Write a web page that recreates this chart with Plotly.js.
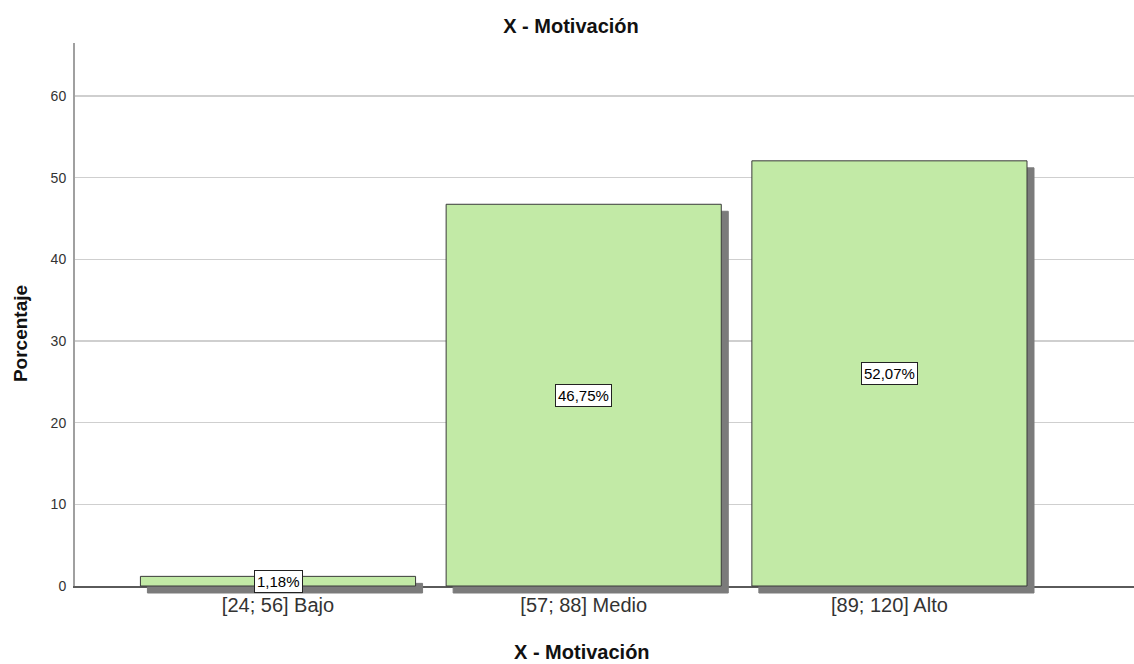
<!DOCTYPE html>
<html>
<head>
<meta charset="utf-8">
<script src="https://cdn.plot.ly/plotly-3.0.1.min.js"></script>
<style>
  html, body { margin: 0; padding: 0; background: #fff; }
  #chart { width: 1134px; height: 664px; }
</style>
</head>
<body>
<div id="chart"></div>
<script>
// Data
const categories = ['[24; 56] Bajo', '[57; 88] Medio', '[89; 120] Alto'];
const percentages = [1.18, 46.75, 52.07];
const yTickValues = [0, 10, 20, 30, 40, 50, 60];
const chartTitle = 'X - Motivación';
const xTitle = 'X - Motivación';
const yTitle = 'Porcentaje';

const FONT = '"Liberation Sans", Arial, sans-serif';

function fmtPct(v) {
  return v.toFixed(2).replace('.', ',') + '%';
}

const trace = {
  type: 'bar',
  x: categories,
  y: percentages,
  width: 0.9,
  marker: { color: '#c2eaa6', line: { color: '#3a3a3a', width: 1 } },
  hoverinfo: 'skip',
  cliponaxis: false
};

const valueLabels = categories.map((c, i) => ({
  x: c,
  y: percentages[i] / 2,
  xref: 'x',
  yref: 'y',
  text: fmtPct(percentages[i]),
  showarrow: false,
  font: { family: FONT, size: 15, color: '#000' },
  bgcolor: '#ffffff',
  bordercolor: '#222222',
  borderwidth: 1,
  borderpad: 2
}));

const axisTitles = [
  {
    text: '<b>' + xTitle + '</b>',
    xref: 'paper', yref: 'paper',
    x: 0.4788, y: -0.1215,
    xanchor: 'center', yanchor: 'middle',
    showarrow: false,
    font: { family: FONT, size: 20, color: '#111' }
  },
  {
    text: '<b>' + yTitle + '</b>',
    xref: 'paper', yref: 'paper',
    x: -0.0519, y: 0.464,
    xanchor: 'center', yanchor: 'middle',
    textangle: -90,
    showarrow: false,
    font: { family: FONT, size: 19, color: '#111' }
  }
];

const layout = {
  width: 1134,
  height: 664,
  margin: { l: 75, r: 0, t: 43, b: 78 },
  paper_bgcolor: '#ffffff',
  plot_bgcolor: '#ffffff',
  showlegend: false,
  font: { family: FONT, color: '#222' },
  title: {
    text: '<b>' + chartTitle + '</b>',
    font: { family: FONT, size: 20, color: '#111' },
    x: 0.5035,
    xanchor: 'center',
    y: 0.961,
    yanchor: 'middle'
  },
  xaxis: {
    type: 'category',
    range: [-0.664, 2.80],
    showgrid: false,
    showline: true,
    linecolor: '#5a5a5a',
    linewidth: 1.5,
    ticks: '',
    layer: 'below traces',
    tickfont: { family: FONT, size: 20, color: '#333' },
    fixedrange: true
  },
  yaxis: {
    range: [0, 66.5],
    tickvals: yTickValues,
    ticktext: yTickValues.map(String),
    showgrid: true,
    gridcolor: '#cfcfcf',
    gridwidth: 1.5,
    zeroline: false,
    showline: true,
    linecolor: '#a0a0a0',
    linewidth: 2,
    ticks: '',
    ticklabelstandoff: 4,
    tickfont: { family: FONT, size: 14, color: '#333' },
    fixedrange: true
  },
  annotations: valueLabels.concat(axisTitles)
};

function addShadows(gd) {
  // let the bar shadows spill below the axis line, as in the reference
  gd.querySelectorAll('.cartesianlayer [clip-path]').forEach(function (el) {
    el.removeAttribute('clip-path');
  });
  gd.querySelectorAll('g.trace.bars path').forEach(function (p) {
    p.style.filter = 'drop-shadow(7px 7px 0px #7b7b7b)';
  });
}

Plotly.newPlot('chart', [trace], layout, { staticPlot: true, displayModeBar: false }).then(addShadows);
</script>
</body>
</html>
